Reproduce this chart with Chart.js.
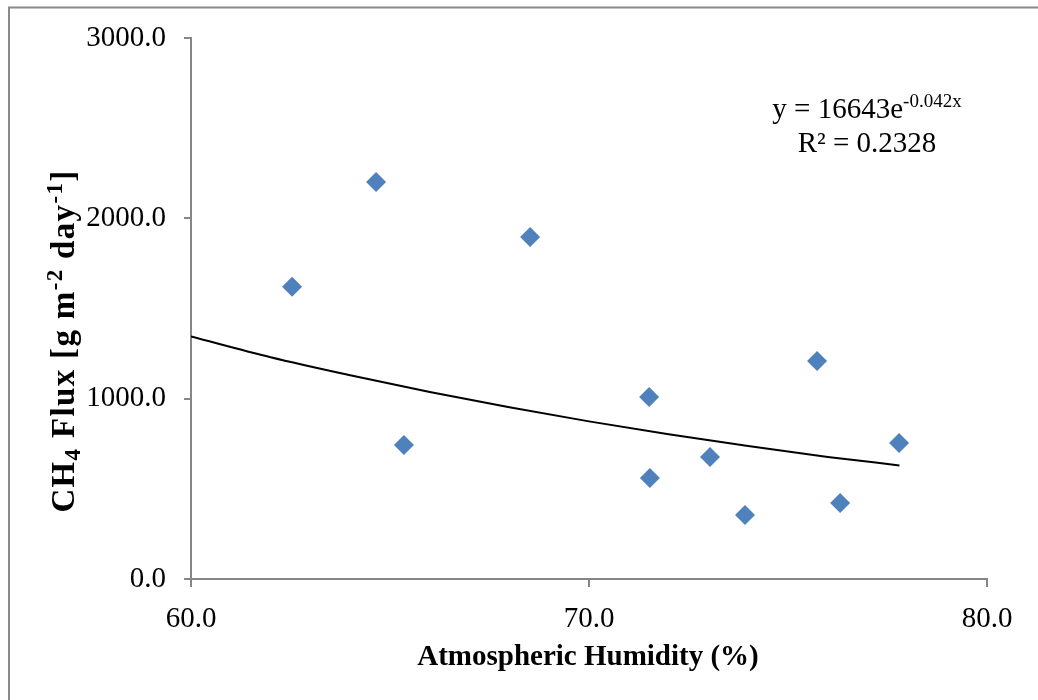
<!DOCTYPE html>
<html>
<head>
<meta charset="utf-8">
<style>
  html, body { margin: 0; padding: 0; background: #fff; }
  #wrap { position: relative; width: 1038px; height: 700px; }
  canvas { display: block; }
</style>
<script src="https://cdn.jsdelivr.net/npm/chart.js@4/dist/chart.umd.min.js"></script>
</head>
<body>
<div id="wrap"><canvas id="c" width="1038" height="700"></canvas></div>
<script>
// ---- data ----
const humidity = [62.54, 64.65, 65.35, 68.52, 71.51, 71.53, 73.04, 73.92, 75.73, 76.31, 77.79];
const ch4Flux  = [1620, 2202, 743, 1897, 1009, 560, 677, 355, 1209, 421, 754];
// exponential trendline, points
const trendX = [60, 62, 64, 66, 68, 70, 72, 74, 76, 77.8];
const trendY = [1345, 1230, 1130, 1037, 952, 874, 803, 737, 677, 630];
const xTickLabels = ["60.0", "70.0", "80.0"];
const yTickLabels = ["0.0", "1000.0", "2000.0", "3000.0"];
const equationText = "y = 16643e";
const equationExp = "-0.042x";
const r2Text = "R\u00B2 = 0.2328";
const xTitle = "Atmospheric Humidity (%)";

const SERIF = '"Liberation Serif", "Times New Roman", serif';
const AXIS_GRAY = '#868686';

const scatterPts = humidity.map((x, i) => ({ x: x, y: ch4Flux[i] }));
const trendPts = trendX.map((x, i) => ({ x: x, y: trendY[i] }));

function drawRuns(ctx, runs, x, y) {
  let cx = x;
  for (const r of runs) {
    ctx.font = (r.bold ? 'bold ' : '') + r.size + 'px ' + SERIF;
    ctx.fillText(r.text, cx, y + (r.dy || 0));
    cx += ctx.measureText(r.text).width;
  }
  return cx - x;
}
function measureRuns(ctx, runs) {
  let w = 0;
  for (const r of runs) {
    ctx.font = (r.bold ? 'bold ' : '') + r.size + 'px ' + SERIF;
    w += ctx.measureText(r.text).width;
  }
  return w;
}

const decorPlugin = {
  id: 'decor',
  beforeDraw(chart) {
    const ctx = chart.ctx;
    ctx.save();
    ctx.fillStyle = '#fff';
    ctx.fillRect(0, 0, chart.width, chart.height);
    ctx.strokeStyle = '#8a8a8a';
    ctx.lineWidth = 2;
    ctx.strokeRect(9, 7.5, 1100, 800);
    ctx.restore();
  },
  afterDraw(chart) {
    const ctx = chart.ctx;
    ctx.save();
    ctx.fillStyle = '#000';
    ctx.textBaseline = 'alphabetic';
    ctx.textAlign = 'left';

    // x axis title
    ctx.font = 'bold 29px ' + SERIF;
    const xw = ctx.measureText(xTitle).width;
    ctx.fillText(xTitle, 588 - xw / 2, 665);

    // y axis title (rotated)
    const yRuns = [
      { text: 'CH', size: 33, bold: true },
      { text: '4', size: 23, bold: true, dy: 6 },
      { text: ' Flux [g m', size: 33, bold: true },
      { text: '-2', size: 23, bold: true, dy: -12 },
      { text: ' day', size: 33, bold: true },
      { text: '-1', size: 23, bold: true, dy: -12 },
      { text: ']', size: 33, bold: true }
    ];
    let nChars = 0;
    yRuns.forEach(r => nChars += r.text.length);
    const baseW = measureRuns(ctx, yRuns);
    const targetW = 343;
    const ls = Math.min(1.5, Math.max(0, (targetW - baseW) / nChars));
    ctx.save();
    ctx.letterSpacing = ls.toFixed(2) + 'px';
    const yw = measureRuns(ctx, yRuns);
    ctx.translate(74, 341);
    ctx.rotate(-Math.PI / 2);
    drawRuns(ctx, yRuns, -yw / 2, 0);
    ctx.restore();

    // equation
    const eqRuns = [
      { text: equationText, size: 29 },
      { text: equationExp, size: 19, dy: -11 }
    ];
    const ew = measureRuns(ctx, eqRuns);
    drawRuns(ctx, eqRuns, 867 - ew / 2, 118);
    ctx.font = '29px ' + SERIF;
    const rw = ctx.measureText(r2Text).width;
    ctx.fillText(r2Text, 867 - rw / 2, 152);
    ctx.restore();
  }
};

new Chart(document.getElementById('c'), {
  type: 'scatter',
  data: {
    datasets: [
      {
        label: 'CH4 Flux',
        data: scatterPts,
        pointStyle: 'rectRot',
        pointRadius: 10,
        pointHoverRadius: 10,
        backgroundColor: '#4F81BD',
        borderColor: '#4F81BD',
        borderWidth: 0,
        order: 1
      },
      {
        label: 'Expon.',
        type: 'line',
        data: trendPts,
        showLine: true,
        pointRadius: 0,
        borderColor: '#000',
        borderWidth: 2,
        fill: false,
        cubicInterpolationMode: 'monotone',
        order: 2
      }
    ]
  },
  options: {
    responsive: false,
    animation: false,
    events: [],
    layout: { padding: { left: 0, top: 38, right: 51, bottom: 0 } },
    plugins: { legend: { display: false }, tooltip: { enabled: false }, title: { display: false } },
    scales: {
      x: {
        type: 'linear',
        min: 60, max: 80,
        afterFit(s) { s.height = 121; },
        afterBuildTicks(s) { s.ticks = [60, 70, 80].map(v => ({ value: v })); },
        ticks: {
          callback: (v, i) => xTickLabels[i],
          font: { family: SERIF, size: 29 },
          color: '#000',
          padding: 15,
          maxRotation: 0,
          autoSkip: false
        },
        grid: { display: true, drawOnChartArea: false, drawTicks: true, tickLength: 8, color: AXIS_GRAY, lineWidth: 2 },
        border: { display: true, color: AXIS_GRAY, width: 2 }
      },
      y: {
        type: 'linear',
        min: 0, max: 3000,
        afterFit(s) { s.width = 191; },
        afterBuildTicks(s) { s.ticks = [0, 1000, 2000, 3000].map(v => ({ value: v })); },
        ticks: {
          callback: (v, i) => yTickLabels[i],
          font: { family: SERIF, size: 29 },
          color: '#000',
          padding: 18,
          autoSkip: false
        },
        grid: { display: true, drawOnChartArea: false, drawTicks: true, tickLength: 7, color: AXIS_GRAY, lineWidth: 2 },
        border: { display: true, color: AXIS_GRAY, width: 2 }
      }
    }
  },
  plugins: [decorPlugin]
});
</script>
</body>
</html>
